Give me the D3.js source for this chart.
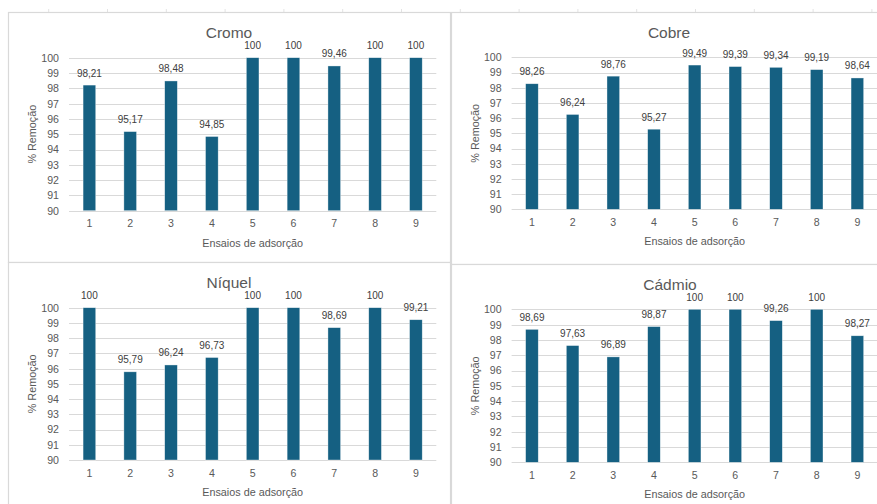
<!DOCTYPE html>
<html>
<head>
<meta charset="utf-8">
<script src="https://cdn.jsdelivr.net/npm/d3@7"></script>
<style>
  html, body { margin: 0; padding: 0; background: #ffffff; }
  svg { display: block; font-family: "Liberation Sans", Arial, sans-serif; }
</style>
</head>
<body>
<svg id="chart" width="877" height="504"></svg>
<script>
// Ensaios de adsorção 1–9 and % remoção per metal
const ensaios = ["1", "2", "3", "4", "5", "6", "7", "8", "9"];
const yTicks = [90, 91, 92, 93, 94, 95, 96, 97, 98, 99, 100];

const cromo  = [98.21, 95.17, 98.48, 94.85, 100, 100, 99.46, 100, 100];
const cobre  = [98.26, 96.24, 98.76, 95.27, 99.49, 99.39, 99.34, 99.19, 98.64];
const niquel = [100, 95.79, 96.24, 96.73, 100, 100, 98.69, 100, 99.21];
const cadmio = [98.69, 97.63, 96.89, 98.87, 100, 100, 99.26, 100, 98.27];

const titles = ["Cromo", "Cobre", "Níquel", "Cádmio"];
const xTitle = "Ensaios de adsorção";
const yTitle = "% Remoção";

// Panel geometry: chart box and plot area
const panels = [
  { title: titles[0], values: cromo,  box: [8, 12, 442, 250],   plot: [69, 57.7, 436.3, 210.7],  titleX: 229, titleY: 32 },
  { title: titles[1], values: cobre,  box: [451, 12, 440, 252], plot: [511.6, 57.3, 877.7, 209.3], titleX: 669, titleY: 32 },
  { title: titles[2], values: niquel, box: [8, 262, 442, 260],  plot: [69, 307.7, 436.3, 460],  titleX: 229, titleY: 282 },
  { title: titles[3], values: cadmio, box: [451, 264, 440, 260], plot: [511.6, 309.3, 877.7, 462.3], titleX: 670, titleY: 284 }
];

const barColor = "#156082";
const textColor = "#595959";
const gridColor = "#d9d9d9";

const svg = d3.select("#chart");

// Faint sheet column lines above the charts
const colLines = d3.range(48.7, 877, 58.8);
svg.append("g").selectAll("line").data(colLines).join("line")
  .attr("x1", d => d).attr("x2", d => d)
  .attr("y1", 9).attr("y2", 12)
  .attr("stroke", "#e3e3e3").attr("stroke-width", 1);

const fmt = v => (v === 100 ? "100" : d3.format(".2f")(v).replace(".", ","));

panels.forEach(p => {
  const g = svg.append("g");
  const [bx, by, bw, bh] = p.box;
  const [x0, y0, x1, y1] = p.plot;

  // Chart box
  g.append("rect")
    .attr("x", bx + 0.5).attr("y", by + 0.5)
    .attr("width", bw).attr("height", bh)
    .attr("fill", "#ffffff")
    .attr("stroke", gridColor).attr("stroke-width", 1.2);

  const x = d3.scaleBand().domain(ensaios).range([x0, x1])
    .paddingInner(0.69).paddingOuter(0.345);
  const y = d3.scaleLinear().domain([90, 100]).range([y1, y0]);

  // Horizontal gridlines
  g.append("g").selectAll("line").data(yTicks).join("line")
    .attr("x1", x0).attr("x2", x1)
    .attr("y1", d => Math.round(y(d)) + 0.5).attr("y2", d => Math.round(y(d)) + 0.5)
    .attr("stroke", gridColor).attr("stroke-width", 1);

  // Y axis tick labels
  const yAxis = d3.axisLeft(y).tickValues(yTicks).tickSize(0).tickPadding(10);
  const ya = g.append("g").attr("transform", `translate(${x0},0)`).call(yAxis);
  ya.select(".domain").remove();
  ya.selectAll("text").attr("fill", textColor)
    .style("font-size", "10.6px").style("font-family", "Liberation Sans, Arial, sans-serif");

  // X axis tick labels
  const xAxis = d3.axisBottom(x).tickSize(0).tickPadding(9);
  const xa = g.append("g").attr("transform", `translate(0,${y1})`).call(xAxis);
  xa.select(".domain").remove();
  xa.selectAll("text").attr("fill", textColor)
    .style("font-size", "10.6px").style("font-family", "Liberation Sans, Arial, sans-serif");

  // Bars
  g.append("g").selectAll("rect").data(p.values).join("rect")
    .attr("x", (d, i) => x(ensaios[i]))
    .attr("y", d => y(d))
    .attr("width", x.bandwidth())
    .attr("height", d => y1 - y(d))
    .attr("fill", barColor)
    .attr("stroke", "#ffffff").attr("stroke-opacity", 0.6).attr("stroke-width", 0.6);

  // Data labels
  g.append("g").selectAll("text").data(p.values).join("text")
    .attr("x", (d, i) => x(ensaios[i]) + x.bandwidth() / 2)
    .attr("y", d => y(d) - 12)
    .attr("text-anchor", "middle")
    .attr("dominant-baseline", "central")
    .attr("fill", "#404040")
    .style("font-size", "10px")
    .text(d => fmt(d));

  // Title
  g.append("text")
    .attr("x", p.titleX).attr("y", p.titleY)
    .attr("text-anchor", "middle").attr("dominant-baseline", "central")
    .attr("fill", textColor)
    .style("font-size", "15.5px")
    .text(p.title);

  // Axis titles
  g.append("text")
    .attr("x", (x0 + x1) / 2).attr("y", y1 + 32)
    .attr("text-anchor", "middle").attr("dominant-baseline", "central")
    .attr("fill", textColor)
    .style("font-size", "10.8px")
    .text(xTitle);

  g.append("text")
    .attr("transform", `translate(${x0 - 37},${(y0 + y1) / 2}) rotate(-90)`)
    .attr("text-anchor", "middle").attr("dominant-baseline", "central")
    .attr("fill", textColor)
    .style("font-size", "10.8px")
    .text(yTitle);
});
</script>
</body>
</html>
